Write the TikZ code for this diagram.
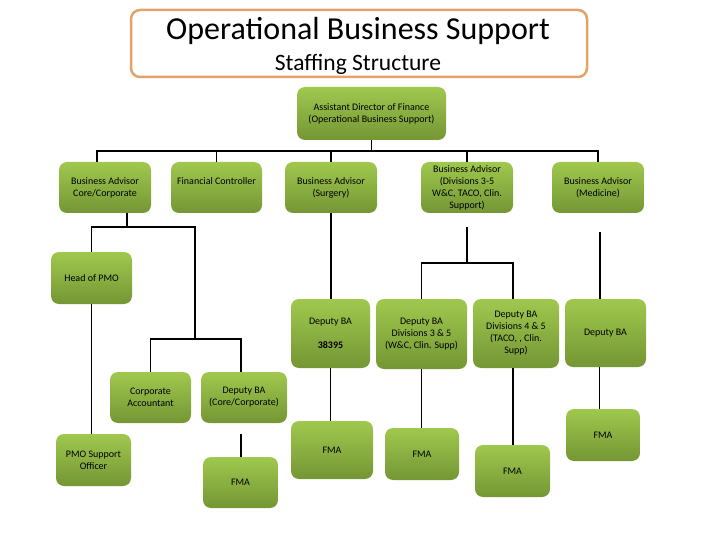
\documentclass[tikz,border=0pt]{standalone}
\usepackage{fontspec}
\setmainfont{Carlito}
\definecolor{greentop}{RGB}{160,200,78}
\definecolor{greenbot}{RGB}{116,150,52}
\definecolor{titleline}{RGB}{228,162,104}
\begin{document}
\begin{tikzpicture}[x=1pt,y=-1pt,
    orgbox/.style 2 args={rounded corners=8pt, top color=greentop, bottom color=greenbot,
        minimum width=#1pt, minimum height=#2pt, align=center, inner sep=1pt,
        font=\fontsize{10}{12}\selectfont},
    link/.style={line width=1.4pt}]
\useasboundingbox (0,0) rectangle (720,540);
\draw[titleline, line width=2.5pt, rounded corners=9pt] (131,10) rectangle (587,77);
\node (titlemain) at (358,31) {\fontsize{32}{34}\selectfont Operational Business Support};
\node (titlesub) at (358,64.5) {\fontsize{23.5}{25}\selectfont Staffing Structure};
% top level
\node[orgbox={149}{53}] (ad) at (371.5,113.5) {Assistant Director of Finance\\(Operational Business Support)};
\node[orgbox={92}{51}] (bacore) at (105,187.5) {Business Advisor\\Core/Corporate};
\node[orgbox={91}{51}] (fc) at (216.5,187.5) {Financial Controller\\\mbox{}};
\node[orgbox={92}{51}] (basurg) at (331,187.5) {Business Advisor\\(Surgery)};
\node[orgbox={92}{51}] (badiv) at (467,187.5) {Business Advisor\\(Divisions 3-5\\W\&C, TACO, Clin.\\Support)};
\node[orgbox={92}{51}] (bamed) at (598,187.5) {Business Advisor\\(Medicine)};
% deputies
\node[orgbox={81}{52}] (pmo) at (91.5,278) {Head of PMO};
\node[orgbox={79}{69}] (dbasurg) at (330.5,333.5) {Deputy BA\\[12pt]\textbf{38395}};
\node[orgbox={91}{70}] (dbadivA) at (421.5,334) {Deputy BA\\Divisions 3 \& 5\\(W\&C, Clin. Supp)};
\node[orgbox={86}{69}] (dbadivB) at (516,333.5) {Deputy BA\\Divisions 4 \& 5\\(TACO, , Clin.\\Supp)};
\node[orgbox={81}{68}] (dbamed) at (605.5,333) {Deputy BA};
\node[orgbox={81}{51}] (corpacc) at (150.5,397.5) {Corporate\\Accountant};
\node[orgbox={86}{51}] (dbacore) at (244,397.5) {Deputy BA\\(Core/Corporate)};
% bottom level
\node[orgbox={75}{52}] (pmoso) at (93.5,460) {PMO Support\\Officer};
\node[orgbox={75}{51}] (fmacore) at (240.5,482.5) {FMA};
\node[orgbox={82}{58}] (fmasurg) at (332,450) {FMA};
\node[orgbox={74}{52}] (fmadivA) at (422,454) {FMA};
\node[orgbox={75}{52}] (fmadivB) at (512.5,471) {FMA};
\node[orgbox={74}{52}] (fmamed) at (603,435) {FMA};
% connectors
\coordinate (busL) at (97,151);
\coordinate (busR) at (598,151);
\coordinate (corejoin) at (127,227);
\coordinate (accjoin) at (195,339);
\coordinate (fmacoretop) at (241,434);
\coordinate (divtop) at (467,227);
\coordinate (divjoin) at (467,263);
\coordinate (medtop) at (600,232);
\draw[link] (ad.south) -- (ad.south |- busL);
\draw[link] (busL |- bacore.north) -- (busL) -- (busR) -- (bamed.north);
\draw[link] (fc.north |- busL) -- (fc.north);
\draw[link] (basurg.north |- busL) -- (basurg.north);
\draw[link] (badiv.north |- busL) -- (badiv.north);
\draw[link] (bacore.south -| corejoin) -- (corejoin);
\draw[link] (pmo.north) |- (corejoin) -| (accjoin);
\draw[link] (corpacc.north) |- (accjoin) -| ([xshift=-3pt]dbacore.north);
\draw[link] (pmo.south) -- (pmo.south |- pmoso.north);
\draw[link] (fmacoretop) -- (fmacoretop |- fmacore.north);
\draw[link] (basurg.south) -- (basurg.south |- dbasurg.north);
\draw[link] (dbasurg.south) -- (dbasurg.south |- fmasurg.north);
\draw[link] (divtop) -- (divjoin);
\draw[link] (dbadivA.north) |- (divjoin) -| ([xshift=-3pt]dbadivB.north);
\draw[link] (dbadivA.south) -- (dbadivA.south |- fmadivA.north);
\draw[link] ([xshift=-3pt]dbadivB.south) -- ([xshift=-3pt]dbadivB.south |- fmadivB.north);
\draw[link] (medtop) -- (medtop |- dbamed.north);
\draw[link] ([xshift=-6pt]dbamed.south) -- ([xshift=-6pt]dbamed.south |- fmamed.north);
\end{tikzpicture}
\end{document}
